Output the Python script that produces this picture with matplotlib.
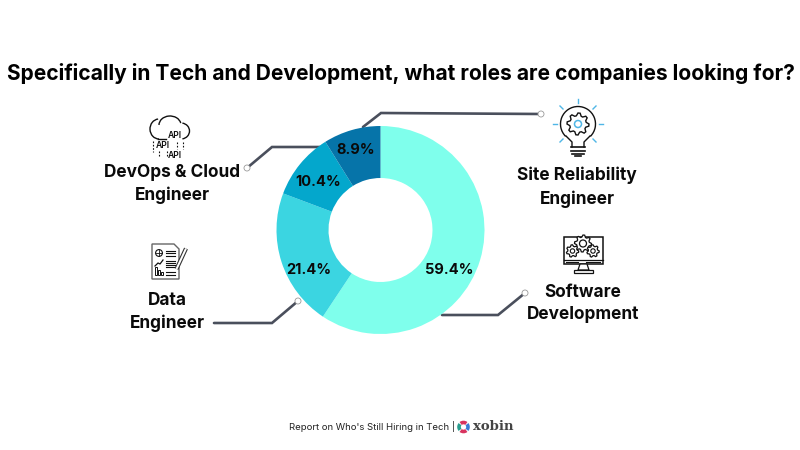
import matplotlib

matplotlib.use("Agg")
import matplotlib.pyplot as plt
import numpy as np
from matplotlib.patches import Arc, Circle, Polygon, Rectangle

plt.rcParams["font.family"] = ["Inter", "DejaVu Sans"]

roles = ["Software\nDevelopment", "Data\nEngineer", "DevOps & Cloud\nEngineer", "Site Reliability\nEngineer"]
shares = [59.4, 21.4, 10.4, 8.9]
share_labels = ["59.4%", "21.4%", "10.4%", "8.9%"]
colors = ["#7fffec", "#3bd5e1", "#04a7cc", "#0674a9"]

INK = "#111111"
LINE = "#4a4f5c"
BLUE = "#4fb6e6"


def leader(ax, xs, ys):
    ax.plot(xs, ys, color=LINE, lw=1.9, solid_capstyle="round", solid_joinstyle="miter", zorder=1)
    ax.add_patch(Circle((xs[-1], ys[-1]), 3, fc="white", ec="#9a9a9a", lw=0.6, zorder=4))


def gear(ax, cx, cy, r, teeth=8, lw=0.9):
    # outline of a cog, only used for the little icons
    ang = np.linspace(0, 2 * np.pi, teeth * 4, endpoint=False)
    rad = np.where(np.arange(teeth * 4) % 4 < 2, r, r * 0.76)
    pts = np.column_stack([cx + rad * np.cos(ang), cy + rad * np.sin(ang)])
    ax.add_patch(Polygon(pts, closed=True, fc="white", ec=INK, lw=lw))


def cloud_icon(ax):
    ax.add_patch(Arc((159, 129), 18, 20, theta1=90, theta2=265, color=INK, lw=1.0))
    ax.add_patch(Arc((170, 125), 22, 18, theta1=180, theta2=350, color=INK, lw=1.0))
    ax.add_patch(Arc((181, 131), 17, 16, theta1=-80, theta2=80, color=INK, lw=1.0))
    ax.plot([158, 166], [139, 139], color=INK, lw=1.0)
    ax.text(175, 136, "API", fontsize=6.2, fontweight="semibold", ha="center", va="center", color=INK)
    ax.text(163, 145.5, "API", fontsize=6.2, fontweight="semibold", ha="center", va="center", color=INK)
    ax.text(175, 155, "API", fontsize=6.2, fontweight="semibold", ha="center", va="center", color=INK)
    dash = (0, (1.5, 1.5))
    ax.plot([153, 153], [141, 152], color=INK, lw=0.8, ls=dash)
    ax.plot([177, 177], [142, 149], color=INK, lw=0.8, ls=dash)
    ax.plot([183, 183], [142, 149], color=INK, lw=0.8, ls=dash)
    ax.plot([159, 159], [151, 156], color=INK, lw=0.8, ls=dash)
    ax.plot([167, 167], [151, 156], color=INK, lw=0.8, ls=dash)


def bulb_icon(ax):
    cx, cy = 578, 124
    ax.add_patch(Arc((cx, cy), 35, 35, theta1=135, theta2=45, color=INK, lw=1.0))
    ax.plot([cx - 12, cx - 6, cx - 6], [136, 142, 147], color=INK, lw=1.0)
    ax.plot([cx + 12, cx + 6, cx + 6], [136, 142, 147], color=INK, lw=1.0)
    for y, half in [(147, 7), (150.5, 7), (153.5, 6)]:
        ax.plot([cx - half, cx + half], [y, y], color=INK, lw=1.2)
    ax.plot([cx - 3, cx + 3], [156, 156], color=INK, lw=1.2)
    gear(ax, cx, cy, 11, teeth=8, lw=1.0)
    ax.add_patch(Circle((cx, cy), 3.5, fc="white", ec=BLUE, lw=1.1))
    rays = [(-21, 0, -25, 0), (21, 0, 25, 0), (0, -21, 0, -25),
            (-15, -15, -18, -18), (15, -15, 18, -18), (-15, 15, -18, 18), (15, 15, 18, 18)]
    for x0, y0, x1, y1 in rays:
        ax.plot([cx + x0, cx + x1], [cy + y0, cy + y1], color=BLUE, lw=1.0)


def data_icon(ax):
    ax.add_patch(Polygon([(152, 244), (174, 244), (179, 249), (179, 279), (152, 279)],
                         closed=True, fc="white", ec="#666666", lw=1.0))
    ax.add_patch(Circle((159, 253), 3.4, fc="white", ec=INK, lw=0.8))
    ax.plot([155.6, 162.4], [253, 253], color=INK, lw=0.6)
    ax.plot([159, 159], [249.6, 256.4], color=INK, lw=0.6)
    for y in [251, 253, 255.5, 261, 263, 265, 267, 272, 274.5]:
        ax.plot([166, 175], [y, y], color=INK, lw=0.8)
    ax.plot([155, 158, 160, 163], [266, 263, 264, 260], color=INK, lw=0.9)
    for x, h in [(156, 8), (159, 5), (162, 3)]:
        ax.add_patch(Rectangle((x - 1, 275 - h), 2, h, fc="white", ec=INK, lw=0.7))
    ax.plot([176.5, 186], [269, 248.5], color="#333333", lw=3.0, solid_capstyle="butt")
    ax.plot([176.5, 186], [269, 248.5], color="white", lw=1.4, solid_capstyle="butt")


def monitor_icon(ax):
    ax.add_patch(Rectangle((563.5, 237), 39.5, 27, fc="white", ec=INK, lw=1.1))
    ax.plot([564, 603], [259.5, 259.5], color=INK, lw=0.9)
    ax.plot([566, 578], [262, 262], color=INK, lw=0.8)
    ax.plot([586, 600], [262, 262], color=INK, lw=0.8)
    ax.add_patch(Polygon([(580, 264), (587, 264), (589, 270), (578, 270)], closed=True, fc="white", ec=INK, lw=0.9))
    ax.add_patch(Rectangle((574, 270), 19, 2.5, fc="white", ec=INK, lw=0.9))
    gear(ax, 583, 243.5, 8.5, teeth=8)
    ax.add_patch(Circle((583, 243.5), 3.5, fc="white", ec=INK, lw=0.9))
    gear(ax, 572.5, 251, 6.2, teeth=7)
    ax.add_patch(Circle((572.5, 251), 2.2, fc="white", ec=INK, lw=0.8))
    gear(ax, 593, 251, 6.2, teeth=7)
    ax.add_patch(Circle((593, 251), 2.2, fc="white", ec=INK, lw=0.8))


def xobin_logo(ax):
    for theta1, c in [(45, "#d8345f"), (135, "#2a9d8f"), (225, "#d8345f"), (315, "#3a7bd5")]:
        ax.add_patch(Arc((463.5, 427), 9, 9, theta1=theta1 + 6, theta2=theta1 + 84, color=c, lw=2.6))


fig = plt.figure(figsize=(8, 4.5), dpi=100)
ax = fig.add_axes([0, 0, 1, 1])

leader(ax, [442, 498, 525], [315, 315, 293])
leader(ax, [214, 272, 298], [323, 323, 301])
leader(ax, [320, 272, 247], [147, 147, 168])
leader(ax, [363, 381, 541], [127, 113, 114])

ax.pie(shares, colors=colors, center=(380.5, 230), radius=104, startangle=-90, counterclock=True,
       wedgeprops={"width": 52, "zorder": 2})

ax.set_xlim(0, 800)
ax.set_ylim(450, 0)
ax.set_aspect("auto")
ax.axis("off")

label_x = [449, 309, 318, 356]
label_y = [270.5, 270.5, 181.5, 149.5]
for x, y, lab in zip(label_x, label_y, share_labels):
    ax.text(x, y, lab, fontsize=10.5, fontweight="bold", ha="center", va="center", color="#0a0a0a", zorder=5)

ax.text(400.5, 73, "Specifically in Tech and Development, what roles are companies looking for?",
        fontsize=15.1, fontweight="bold", ha="center", va="center", color="black")

role_x = [583, 167, 172, 577]
role_y = [303.5, 312, 184, 187]
for x, y, role in zip(role_x, role_y, roles):
    ax.text(x, y, role, fontsize=12.4, fontweight="bold", ha="center", va="center",
            color="#0a0a0a", linespacing=1.45)

cloud_icon(ax)
bulb_icon(ax)
data_icon(ax)
monitor_icon(ax)

ax.text(289, 427, "Report on Who's Still Hiring in Tech |", fontsize=6.85, ha="left", va="center", color="#222222")
xobin_logo(ax)
ax.text(473, 426.5, "xobin", fontsize=9.5, family="DejaVu Serif", ha="left", va="center", color="#444444",
        fontweight="bold")

fig.savefig("out.png", dpi=100)
plt.close(fig)
